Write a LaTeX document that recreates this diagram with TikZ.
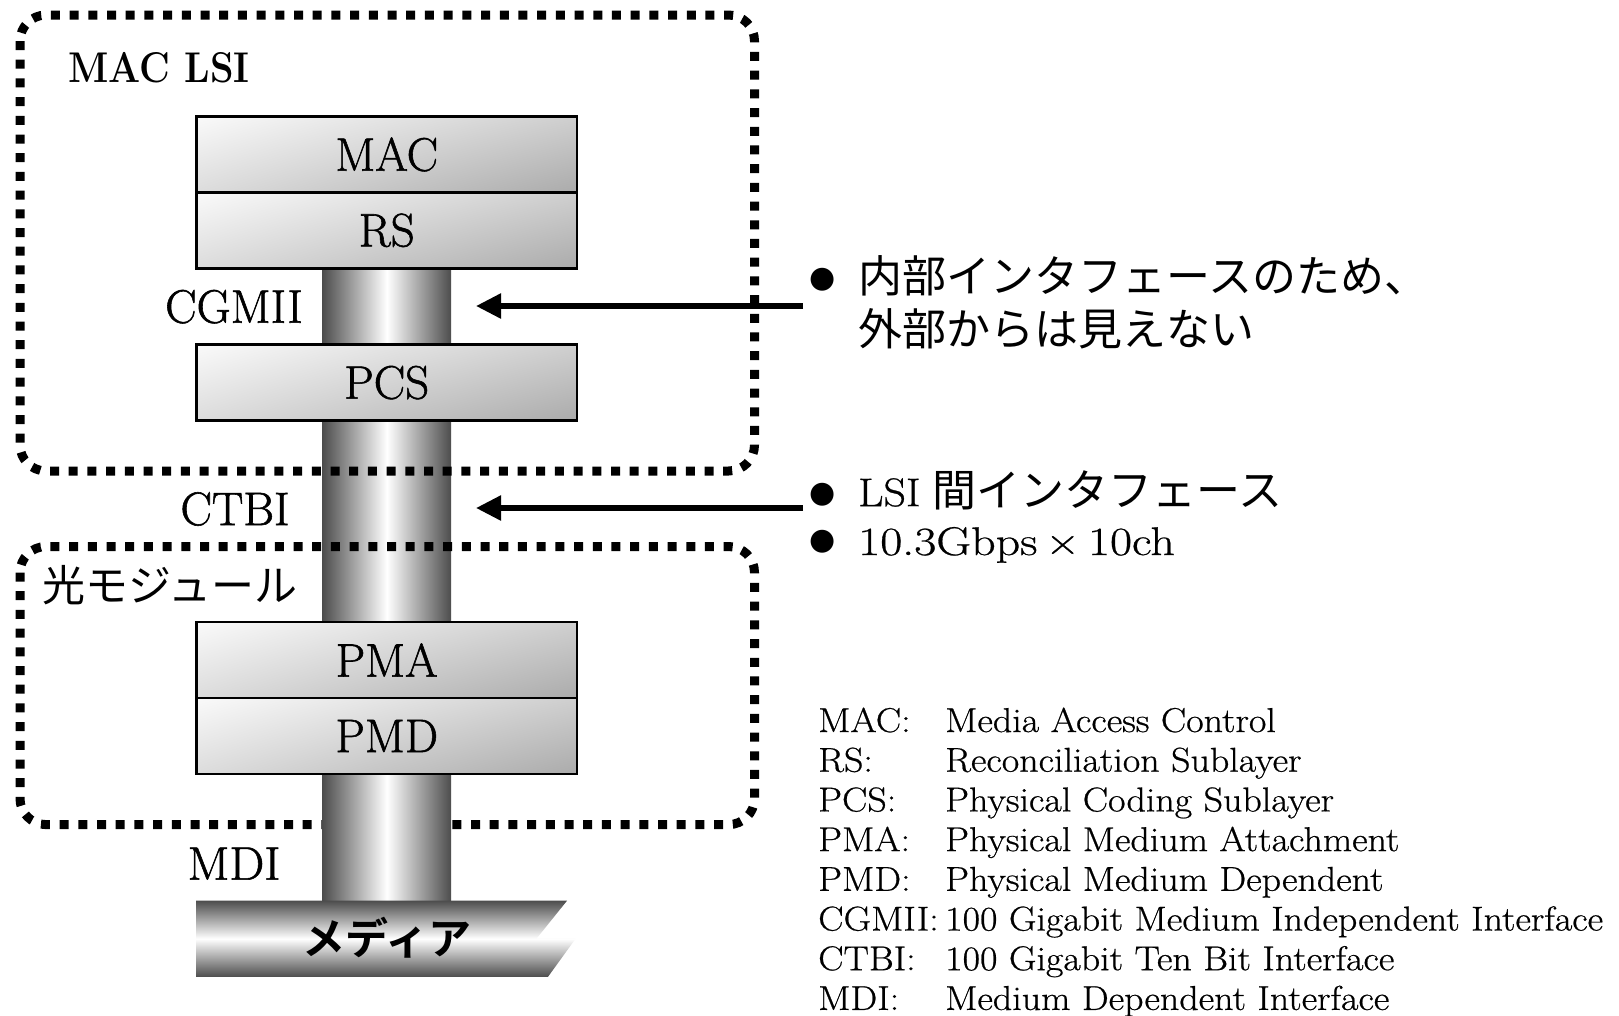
\documentclass[tikz,border=0pt]{standalone}
\usepackage{fontspec}
\usepackage{graphicx}
\newfontfamily\jp{Noto Sans CJK JP}[BoldFont={Noto Sans CJK JP Bold}]
\newfontfamily\dv{DejaVu Sans}
\newfontfamily\lmh{Latin Modern Roman}[FakeBold=1.2]
\newfontfamily\lmm{Latin Modern Roman}[FakeBold=0.6]
\usetikzlibrary{arrows.meta,shadings}
\definecolor{pilldark}{HTML}{4D4D4D}
\definecolor{boxUL}{HTML}{FAFAFA}
\definecolor{boxUR}{HTML}{CFCFCF}
\definecolor{boxLL}{HTML}{DCDCDC}
\definecolor{boxLR}{HTML}{ABABAB}
\newcommand\sx[2]{\scalebox{#1}[1]{#2}}
\begin{document}
\begin{tikzpicture}[x=1pt,y=-1pt,
  layerbox/.style={draw=black, line width=2.5pt, upper left=boxUL, upper right=boxUR,
    lower left=boxLL, lower right=boxLR, minimum width=380.5pt, minimum height=76pt,
    inner sep=0pt, font=\lmh\fontsize{47}{50}\selectfont},
  lbl/.style={inner sep=0pt, font=\lmh\fontsize{47}{50}\selectfont},
  dotbox/.style={line width=9pt, dash pattern=on 9pt off 9.7pt, rounded corners=26pt},
  ptr/.style={line width=5.5pt, -{Triangle[length=25pt,width=24pt]}},
  legend/.style={inner sep=0pt, anchor=base west, font=\lmm\fontsize{34.5}{36}\selectfont},
  jptext/.style={inner sep=0pt, anchor=west, font=\jp\fontsize{44}{46}\selectfont},
  bul/.style={inner sep=0pt, font=\dv\fontsize{30}{32}\selectfont}
]
\useasboundingbox[fill=white] (0,0) rectangle (1619,1015);

% upper pillar
\shade[left color=pilldark, right color=pilldark, middle color=white]
  (322.7,268) rectangle (451,640);

% dotted enclosures
\draw[dotbox] (20,15) rectangle (754.5,471);
\draw[dotbox] (20,546.5) rectangle (754.5,824.6);

% lower pillar (over the lower dotted edge)
\shade[left color=pilldark, right color=pilldark, middle color=white]
  (322.7,760) rectangle (451,901);

% media
\shade[top color=pilldark, bottom color=pilldark, middle color=white]
  (196,900.7) -- (567,900.7) -- (536.6,938.5) -- (575.7,938.5) -- (548,976.8) -- (196,976.8) -- cycle;
\node[inner sep=0pt, font=\jp\bfseries\fontsize{43}{46}\selectfont] (media) at (387,938) {メディア};

% layer boxes
\node[layerbox] (mac) at (386.75,154.5) {MAC};
\node[layerbox] (rs)  at (386.75,230.3) {RS};
\node[layerbox] (pcs) at (386.75,382.6) {PCS};
\node[layerbox] (pma) at (386.75,660) {PMA};
\node[layerbox] (pmd) at (386.75,736) {PMD};

% labels
\node[inner sep=0pt, font=\bfseries\fontsize{43}{45}\selectfont] (maclsi) at (159,67.5) {\sx{0.88}{MAC LSI}};
\node[inner sep=0pt, font=\jp\fontsize{43}{46}\selectfont] (optmod) at (170,585) {光モジュール};
\node[lbl] (cgmii) at (234,306.7) {CGMII};
\node[lbl] (ctbi)  at (235,509) {CTBI};
\node[lbl] (mdi)   at (234,863.6) {\sx{1.05}{MDI}};

% arrows
\coordinate (a1s) at (803,306);
\coordinate (a1t) at (476,306);
\coordinate (a2s) at (803,508);
\coordinate (a2t) at (476,508);
\draw[ptr] (a1s) -- (a1t);
\draw[ptr] (a2s) -- (a2t);

% bullet notes
\node[bul] (b1) at (823,280) {●};
\node[jptext] (t1) at (858,276) {内部インタフェースのため、};
\node[jptext] (t1b) at (858,329) {外部からは見えない};
\node[bul] (b2) at (823,495) {●};
\node[inner sep=0pt, anchor=west] (t2) at (858,490)
  {\lmm\fontsize{40}{44}\selectfont\sx{1.1}{LSI}\hspace{12pt}{\jp\fontsize{44}{46}\selectfont 間インタフェース}};
\node[bul] (b3) at (823,541.7) {●};
\node[inner sep=0pt, anchor=base west] (t3) at (858,555)
  {\lmm\fontsize{40}{44}\selectfont\sx{1.2}{10.3Gbps\,×\,10ch}};

% legend
\foreach \ab/\df [count=\i] in {MAC/Media Access Control, RS/Reconciliation Sublayer,
  PCS/Physical Coding Sublayer, PMA/Physical Medium Attachment,
  PMD/Physical Medium Dependent, CGMII/100 Gigabit Medium Independent Interface,
  CTBI/100 Gigabit Ten Bit Interface, MDI/Medium Dependent Interface}{
  \node[legend] (ab\i) at (818,{732+39.7*(\i-1)}) {\sx{1.1}{\ab:}};
  \node[legend] (df\i) at (945,{732+39.7*(\i-1)}) {\sx{1.1}{\df}};
}
\end{tikzpicture}
\end{document}
